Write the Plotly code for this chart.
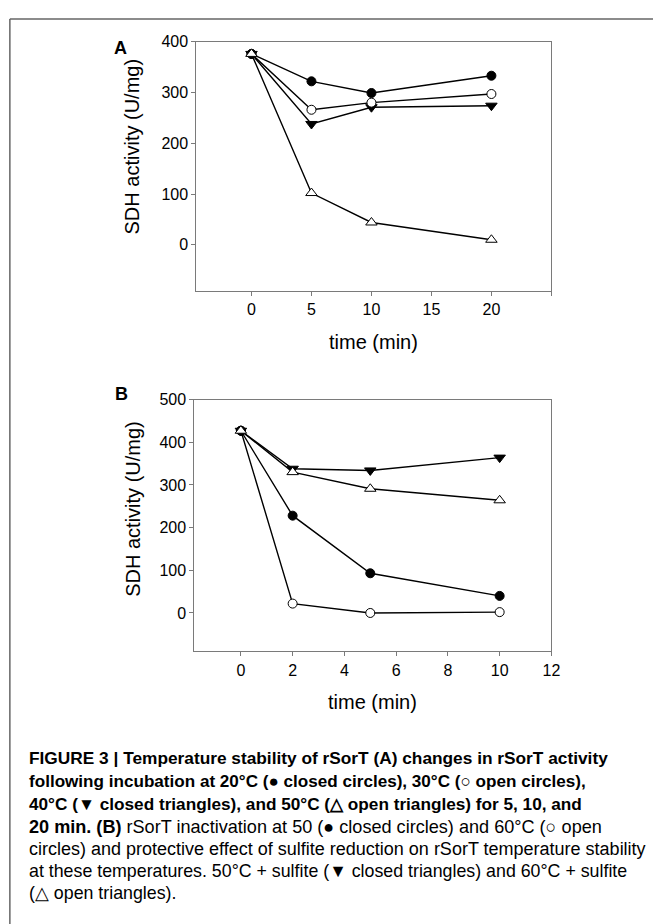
import plotly.graph_objects as go

W, H = 662, 924

# ---- Data ----
time_a = [0, 5, 10, 20]
a_20c_closed_circles = [376, 322, 299, 333]
a_30c_open_circles = [376, 266, 280, 297]
a_40c_closed_triangles = [376, 238, 271, 274]
a_50c_open_triangles = [376, 102, 44, 10]

time_b = [0, 2, 5, 10]
b_50c_closed_circles = [427, 228, 93, 40]
b_60c_open_circles = [427, 22, 0, 2]
b_50c_sulfite_closed_triangles = [427, 338, 334, 364]
b_60c_sulfite_open_triangles = [427, 330, 291, 264]

xticks_a = [0, 5, 10, 15, 20, 25]
xticklabels_a = ["0", "5", "10", "15", "20", ""]
yticks_a = [0, 100, 200, 300, 400]
xticks_b = [0, 2, 4, 6, 8, 10, 12]
yticks_b = [0, 100, 200, 300, 400, 500]

caption_lines = [
    "<b>FIGURE 3 | Temperature stability of rSorT (A) changes in rSorT activity</b>",
    "<b>following incubation at 20°C (● closed circles), 30°C (○ open circles),</b>",
    "<b>40°C (▼ closed triangles), and 50°C (△ open triangles) for 5, 10, and</b>",
    "<b>20 min. (B)</b> rSorT inactivation at 50 (● closed circles) and 60°C (○ open",
    "circles) and protective effect of sulfite reduction on rSorT temperature stability",
    "at these temperatures. 50°C + sulfite (▼ closed triangles) and 60°C + sulfite",
    "(△ open triangles).",
]
caption_sizes = [17.3, 17.1, 17.2, 18.1, 18, 17.8, 17.8]

FONT = "Liberation Sans, Arial, sans-serif"
AXC = "#7a7a7a"


def px(x):
    return x / W


def py(y):
    return 1 - y / H


fig = go.Figure()


def add_series(x, y, symbol, fill, size, xa, ya):
    fig.add_trace(go.Scatter(
        x=x, y=y, mode="lines+markers", xaxis=xa, yaxis=ya,
        line=dict(color="black", width=1.4),
        marker=dict(symbol=symbol, size=size, color=fill,
                    line=dict(color="black", width=1)),
        showlegend=False, hoverinfo="skip"))


# Panel A
add_series(time_a, a_40c_closed_triangles, "triangle-down", "black", 10, "x", "y")
add_series(time_a, a_30c_open_circles, "circle", "white", 9, "x", "y")
add_series(time_a, a_20c_closed_circles, "circle", "black", 9, "x", "y")
add_series(time_a, a_50c_open_triangles, "triangle-up", "white", 10, "x", "y")

# Panel B
add_series(time_b, b_60c_open_circles, "circle", "white", 9, "x2", "y2")
add_series(time_b, b_50c_closed_circles, "circle", "black", 9, "x2", "y2")
add_series(time_b, b_50c_sulfite_closed_triangles, "triangle-down", "black", 10, "x2", "y2")
add_series(time_b, b_60c_sulfite_open_triangles, "triangle-up", "white", 10, "x2", "y2")

axis_common = dict(showgrid=False, zeroline=False, showline=True, linecolor=AXC,
                   linewidth=1, mirror=True, ticks="outside", ticklen=4,
                   tickcolor=AXC, tickwidth=1,
                   tickfont=dict(family=FONT, size=16, color="black"))

fig.update_layout(
    width=W, height=H, autosize=False,
    margin=dict(l=0, r=0, t=0, b=0),
    paper_bgcolor="white", plot_bgcolor="white",
    xaxis=dict(domain=[px(199), px(559)], range=[-4.6, 25], tickvals=xticks_a,
               ticktext=xticklabels_a, anchor="y", **axis_common),
    yaxis=dict(domain=[py(285), py(34)], range=[-90, 400], tickvals=yticks_a,
               anchor="x", **axis_common),
    xaxis2=dict(domain=[px(197), px(559)], range=[-1.8, 12], tickvals=xticks_b,
                anchor="y2", **axis_common),
    yaxis2=dict(domain=[py(649), py(395)], range=[-90, 500], tickvals=yticks_b,
                anchor="x2", **axis_common),
)

ann = []
ann.append(dict(text="SDH activity (U/mg)", x=px(134), y=py(139.5), textangle=-90,
                font=dict(family=FONT, size=20, color="black")))
ann.append(dict(text="SDH activity (U/mg)", x=px(134), y=py(505), textangle=-90,
                font=dict(family=FONT, size=20, color="black")))
ann.append(dict(text="time (min)", x=px(379), y=py(337),
                font=dict(family=FONT, size=20, color="black")))
ann.append(dict(text="time (min)", x=px(378), y=py(700),
                font=dict(family=FONT, size=20, color="black")))
ann.append(dict(text="<b>A</b>", x=px(122), y=py(40),
                font=dict(family=FONT, size=18, color="black")))
ann.append(dict(text="<b>B</b>", x=px(123), y=py(389),
                font=dict(family=FONT, size=18, color="black")))
for a in ann:
    a.update(xref="paper", yref="paper", showarrow=False, xanchor="center",
             yanchor="middle")

cap_y = [757, 780, 803, 826, 848, 871, 893]
for line, yy, fs in zip(caption_lines, cap_y, caption_sizes):
    ann.append(dict(text=line, x=px(27), y=py(yy), xref="paper", yref="paper",
                    showarrow=False, xanchor="left", yanchor="middle",
                    font=dict(family=FONT, size=fs, color="black")))

fig.update_layout(annotations=ann)

fig.update_layout(shapes=[
    dict(type="line", xref="paper", yref="paper", x0=px(10), x1=px(10),
         y0=0, y1=py(11), line=dict(color="#666666", width=1.5)),
    dict(type="line", xref="paper", yref="paper", x0=px(10), x1=1,
         y0=py(11), y1=py(11), line=dict(color="#666666", width=1.5)),
])

fig.write_html("out.html",
               config={"displayModeBar": False},
               post_script="document.body.style.margin='0';"
                           "document.body.style.overflow='hidden';")
